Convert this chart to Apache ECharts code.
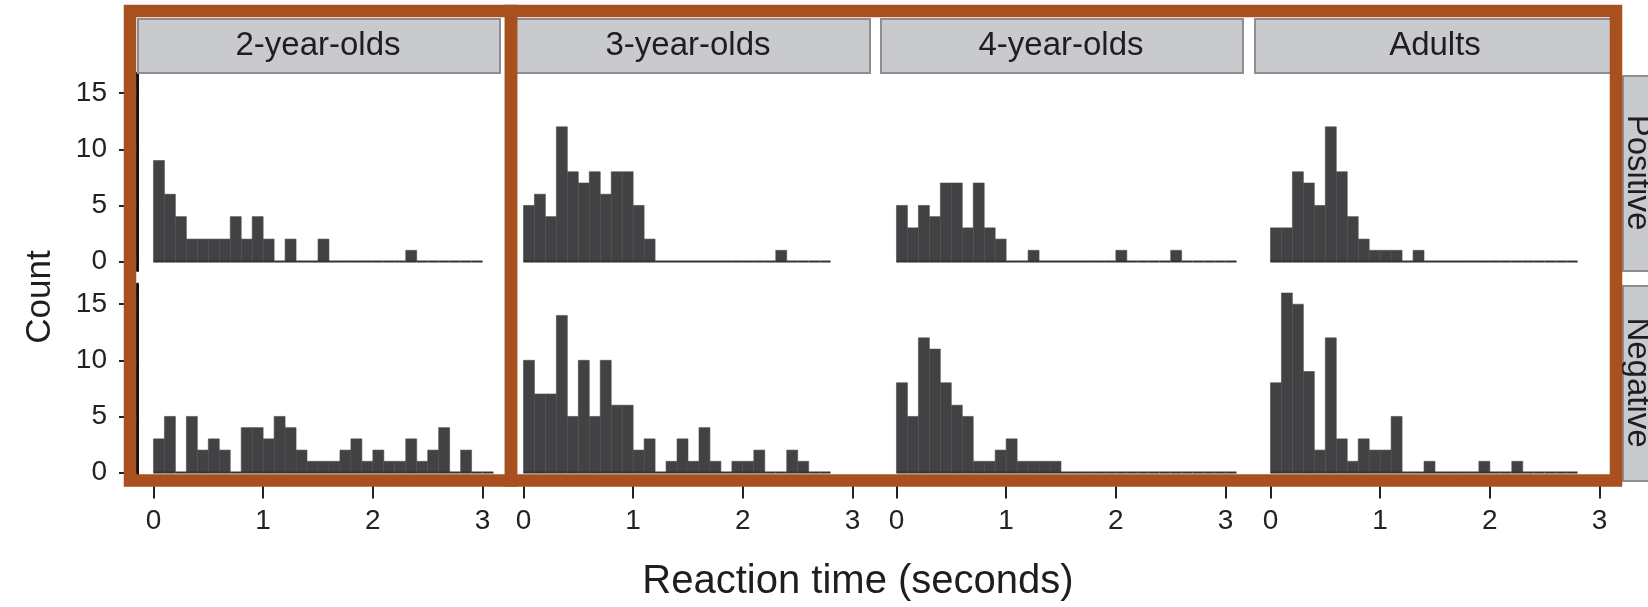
<!DOCTYPE html>
<html>
<head>
<meta charset="utf-8">
<script src="https://cdn.jsdelivr.net/npm/echarts@6.0.0/dist/echarts.min.js"></script>
<style>
html,body{margin:0;padding:0;background:#fff;}
#chart{width:1648px;height:607px;}
</style>
</head>
<body>
<div id="chart"></div>
<script>
// ---- data ----
var BIN_WIDTH = 0.1;   // seconds per histogram bin, bins start at 0
var groups = ['2-year-olds', '3-year-olds', '4-year-olds', 'Adults'];
var valences = ['Positive', 'Negative'];
var xTicks = [0, 1, 2, 3];
var yTicks = [0, 5, 10, 15];
var xTitle = 'Reaction time (seconds)';
var yTitle = 'Count';

var pos2yr = [9,6,4,2,2,2,2,4,2,4,2,0,2,0,0,2,0,0,0,0,0,0,0,1,0,0,0,0,0,0];
var neg2yr = [3,5,0,5,2,3,2,0,4,4,3,5,4,2,1,1,1,2,3,1,2,1,1,3,1,2,4,0,2,0,0];
var pos3yr = [5,6,4,12,8,7,8,6,8,8,5,2,0,0,0,0,0,0,0,0,0,0,0,1,0,0,0,0];
var neg3yr = [10,7,7,14,5,10,5,10,6,6,2,3,0,1,3,1,4,1,0,1,1,2,0,0,2,1,0,0];
var pos4yr = [5,3,5,4,7,7,3,7,3,2,0,0,1,0,0,0,0,0,0,0,1,0,0,0,0,1,0,0,0,0,0];
var neg4yr = [8,5,12,11,8,6,5,1,1,2,3,1,1,1,1,0,0,0,0,0,0,0,0,0,0,0,0,0,0,0,0];
var posAdult = [3,3,8,7,5,12,8,4,2,1,1,1,0,1,0,0,0,0,0,0,0,0,0,0,0,0,0,0];
var negAdult = [8,16,15,9,2,12,3,1,3,2,2,5,0,0,1,0,0,0,0,1,0,0,1,0,0,0,0,0];

var panelCounts = [
  [pos2yr, pos3yr, pos4yr, posAdult],
  [neg2yr, neg3yr, neg4yr, negAdult]
];

// ---- layout ----
var colLeft = [137, 507, 880, 1254];
var panelW = 362;
var rowTop = [73, 284];
var panelH = 197.5;
var FONT = "'Liberation Sans', Arial, Helvetica, sans-serif";
var BAR = '#424244';
var ORANGE = '#A8511F';

var chart = echarts.init(document.getElementById('chart'));

function renderItem(params, api) {
  var x0 = api.value(0), x1 = api.value(1), c = api.value(2);
  var p0 = api.coord([x0, 0]);
  var p1 = api.coord([x1, c]);
  var children = [];
  if (c > 0) {
    children.push({
      type: 'rect',
      shape: { x: p0[0], y: p1[1], width: p1[0] - p0[0], height: p0[1] - p1[1] },
      style: { fill: BAR, stroke: '#4e4e50', lineWidth: 0.6 }
    });
  }
  children.push({
    type: 'line',
    shape: { x1: p0[0], y1: p0[1], x2: p1[0], y2: p0[1] },
    style: { stroke: '#333335', lineWidth: 2 }
  });
  return { type: 'group', children: children };
}

var grids = [], xAxes = [], yAxes = [], series = [], graphics = [];
for (var r = 0; r < 2; r++) {
  for (var c = 0; c < 4; c++) {
    var idx = r * 4 + c;
    grids.push({ left: colLeft[c], top: rowTop[r], width: panelW, height: panelH, containLabel: false });
    xAxes.push({
      gridIndex: idx, type: 'value', min: -0.15, max: 3.15,
      splitLine: { show: false },
      axisLine: { show: false, onZero: false },
      axisTick: { show: r === 1, length: 17, customValues: xTicks, lineStyle: { color: '#222', width: 2 } },
      axisLabel: { show: r === 1, customValues: xTicks, margin: 26, fontSize: 28, color: '#222', fontFamily: FONT }
    });
    yAxes.push({
      gridIndex: idx, type: 'value', min: -0.8, max: 16.8,
      splitLine: { show: false },
      axisLine: { show: c === 0, onZero: false, lineStyle: { color: '#111', width: 3 } },
      axisTick: { show: c === 0, length: 18, customValues: yTicks, lineStyle: { color: '#222', width: 2 } },
      axisLabel: { show: c === 0, customValues: yTicks, margin: 30, fontSize: 28, color: '#222', fontFamily: FONT }
    });
    var counts = panelCounts[r][c];
    var data = counts.map(function (v, i) { return [i * BIN_WIDTH, (i + 1) * BIN_WIDTH, v]; });
    series.push({
      type: 'custom', xAxisIndex: idx, yAxisIndex: idx,
      renderItem: renderItem, data: data, clip: false, silent: true,
      encode: { x: [0, 1], y: 2 }
    });
  }
}

// top strips
for (var c2 = 0; c2 < 4; c2++) {
  graphics.push({
    type: 'rect', left: colLeft[c2], top: 18, z: 5,
    shape: { width: panelW, height: 54 },
    style: { fill: '#c9cacd', stroke: '#8e8e90', lineWidth: 2 }
  });
  graphics.push({
    type: 'text', x: colLeft[c2] + panelW / 2, y: 46, z: 6,
    style: { text: groups[c2], font: '33px ' + FONT, fill: '#1e1e1e', align: 'center', verticalAlign: 'middle' }
  });
}
// right strips
var stripY = [[75, 195], [285, 195]];
for (var r2 = 0; r2 < 2; r2++) {
  graphics.push({
    type: 'rect', left: 1622, top: stripY[r2][0], z: 5,
    shape: { width: 60, height: stripY[r2][1] },
    style: { fill: '#c9cacd', stroke: '#8e8e90', lineWidth: 2 }
  });
  graphics.push({
    type: 'text', x: 1637, y: stripY[r2][0] + stripY[r2][1] / 2, rotation: -Math.PI / 2, z: 6,
    style: { text: valences[r2], font: '33px ' + FONT, fill: '#1e1e1e', align: 'center', verticalAlign: 'middle' }
  });
}
// axis titles
graphics.push({
  type: 'text', x: 858, y: 582, z: 6,
  style: { text: xTitle, font: '40px ' + FONT, fill: '#1e1e1e', align: 'center', verticalAlign: 'middle' }
});
graphics.push({
  type: 'text', x: 40, y: 297, rotation: Math.PI / 2, z: 6,
  style: { text: yTitle, font: '35px ' + FONT, fill: '#1e1e1e', align: 'center', verticalAlign: 'middle' }
});
// orange highlight boxes
graphics.push({
  type: 'rect', z: 100, shape: { x: 130, y: 11, width: 381, height: 469.5 },
  style: { fill: null, stroke: ORANGE, lineWidth: 12.5 }
});
graphics.push({
  type: 'rect', z: 100, shape: { x: 511, y: 11, width: 1105, height: 469.5 },
  style: { fill: null, stroke: ORANGE, lineWidth: 12.5 }
});

chart.setOption({
  animation: false,
  backgroundColor: '#ffffff',
  grid: grids, xAxis: xAxes, yAxis: yAxes, series: series,
  graphic: { elements: graphics }
});
</script>
</body>
</html>
